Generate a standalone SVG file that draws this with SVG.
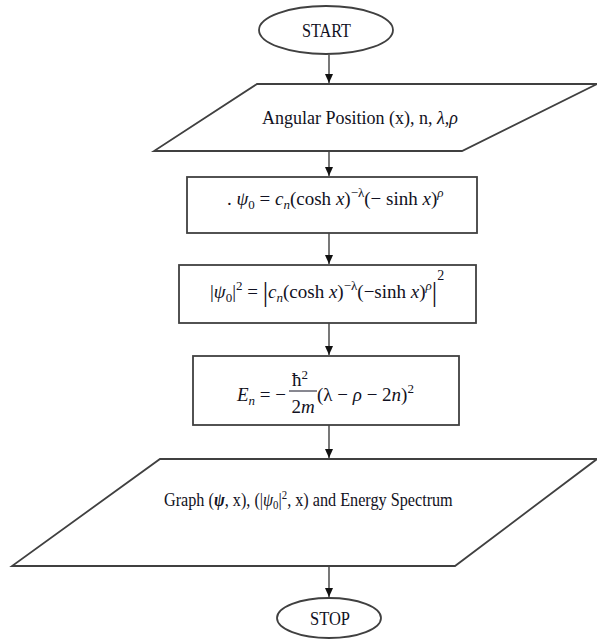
<svg xmlns="http://www.w3.org/2000/svg" width="597" height="640" viewBox="0 0 597 640">
<style>
.shape{fill:#ffffff;stroke:#404040;stroke-width:1.8}
.conn{fill:none;stroke:#303030;stroke-width:1.3}
text{font-family:"Liberation Serif","Times New Roman",serif;fill:#111122;font-size:18px}
.m{font-size:19px}
.i{font-style:italic}
</style>
<defs>
<marker id="ah" markerWidth="10" markerHeight="10" refX="9" refY="5" orient="auto" markerUnits="userSpaceOnUse">
<path d="M0,1 L9,5 L0,9 Z" fill="#111"/>
</marker>
</defs>
<rect width="597" height="640" fill="#ffffff"/>
<g id="connectors">
<line class="conn" x1="329" y1="55" x2="329" y2="83" marker-end="url(#ah)"/>
<line class="conn" x1="329" y1="151" x2="329" y2="176" marker-end="url(#ah)"/>
<line class="conn" x1="329" y1="233" x2="329" y2="264" marker-end="url(#ah)"/>
<line class="conn" x1="329" y1="323" x2="329" y2="355" marker-end="url(#ah)"/>
<line class="conn" x1="329" y1="425" x2="329" y2="458" marker-end="url(#ah)"/>
<line class="conn" x1="329" y1="566" x2="329" y2="597" marker-end="url(#ah)"/>
</g>
<g id="start">
<ellipse class="shape" cx="326" cy="30" rx="67" ry="24"/>
<text x="302" y="37" font-size="19" textLength="49" lengthAdjust="spacingAndGlyphs">START</text>
</g>
<g id="input">
<polygon class="shape" points="257,84 597,84 462,151 154,151"/>
<text x="262" y="124">Angular Position (x), n, <tspan class="i">λ,ρ</tspan></text>
</g>
<g id="psi0">
<rect class="shape" x="187" y="177" width="290" height="56"/>
<text class="m" x="227" y="205">. <tspan class="i">ψ</tspan><tspan font-size="13" dy="4">0</tspan><tspan dy="-4"> = </tspan><tspan class="i">c</tspan><tspan class="i" font-size="13" dy="4">n</tspan><tspan dy="-4">(cosh </tspan><tspan class="i">x</tspan>)<tspan font-size="13" dy="-8">−λ</tspan><tspan dy="8">(− sinh </tspan><tspan class="i">x</tspan>)<tspan class="i" font-size="13" dy="-8">ρ</tspan></text>
</g>
<g id="density">
<rect class="shape" x="179" y="265" width="297" height="58"/>
<text class="m" x="210" y="298">|<tspan class="i">ψ</tspan><tspan font-size="13" dy="4">0</tspan><tspan dy="-4">|</tspan><tspan font-size="13" dy="-8">2</tspan><tspan dy="8"> = </tspan><tspan font-size="27" dy="3">|</tspan><tspan class="i" dy="-3">c</tspan><tspan class="i" font-size="13" dy="4">n</tspan><tspan dy="-4">(cosh </tspan><tspan class="i">x</tspan>)<tspan font-size="13" dy="-8">−λ</tspan><tspan dy="8">(−sinh </tspan><tspan class="i">x</tspan>)<tspan class="i" font-size="13" dy="-8">ρ</tspan><tspan font-size="27" dy="11">|</tspan><tspan font-size="14" dy="-21">2</tspan></text>
</g>
<g id="energy">
<rect class="shape" x="193" y="356" width="266" height="69"/>
<text class="m" x="237" y="401"><tspan class="i">E</tspan><tspan class="i" font-size="13" dy="4">n</tspan><tspan dy="-4"> = −</tspan></text>
<text class="m" x="300" y="386" text-anchor="middle">ħ<tspan font-size="13" dy="-7">2</tspan></text>
<line x1="289" y1="391" x2="317" y2="391" stroke="#111122" stroke-width="1"/>
<text class="m" x="303" y="413" text-anchor="middle">2<tspan class="i">m</tspan></text>
<text class="m" x="317" y="401">(λ − <tspan class="i">ρ</tspan> − 2<tspan class="i">n</tspan>)<tspan font-size="13" dy="-8">2</tspan></text>
</g>
<g id="output">
<polygon class="shape" points="160,459 597,459 455,566 12,566"/>
<text transform="translate(164,506) scale(0.9,1)" x="0" y="0" font-size="17">Graph (<tspan font-weight="bold" class="i">ψ</tspan>, x), (|<tspan class="i">ψ</tspan><tspan font-size="12" dy="3">0</tspan><tspan dy="-3">|</tspan><tspan font-size="12" dy="-7">2</tspan><tspan dy="7">, x) and Energy Spectrum</tspan></text>
</g>
<g id="stop">
<ellipse class="shape" cx="329" cy="618" rx="52" ry="20"/>
<text x="310" y="625" font-size="19" textLength="40" lengthAdjust="spacingAndGlyphs">STOP</text>
</g>
</svg>
